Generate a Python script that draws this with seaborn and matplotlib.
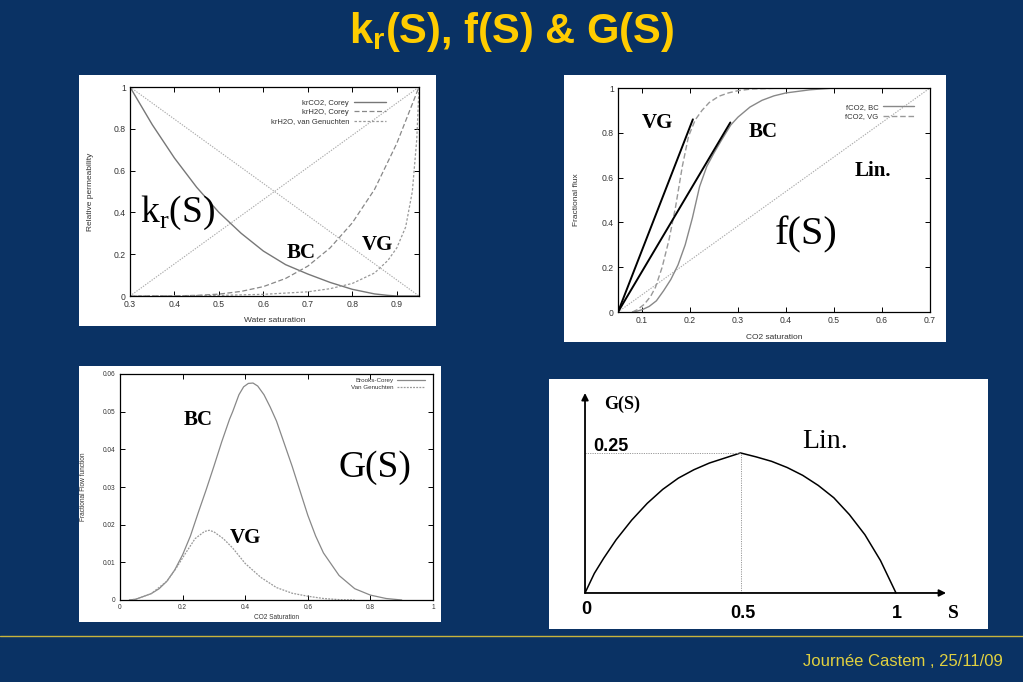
import matplotlib
matplotlib.use('Agg')
import matplotlib.pyplot as plt
import seaborn as sns
from matplotlib.patches import Rectangle
from matplotlib.ticker import FuncFormatter

# ---- panel 1: relative permeabilities vs water saturation
kr_co2_s = [0.30, 0.35, 0.40, 0.45, 0.50, 0.55, 0.60, 0.65, 0.70, 0.75, 0.80, 0.85, 0.88, 0.90, 0.95]
kr_co2 = [1.0, 0.82, 0.66, 0.52, 0.40, 0.30, 0.215, 0.15, 0.105, 0.065, 0.032, 0.010, 0.003, 0.0, 0.0]
kr_h2o_bc_s = [0.30, 0.40, 0.45, 0.50, 0.55, 0.60, 0.65, 0.70, 0.75, 0.80, 0.85, 0.90, 0.95]
kr_h2o_bc = [0.0, 0.0006, 0.003, 0.009, 0.022, 0.045, 0.084, 0.143, 0.23, 0.35, 0.51, 0.73, 1.0]
kr_h2o_vg_s = [0.30, 0.50, 0.60, 0.70, 0.75, 0.80, 0.85, 0.88, 0.90, 0.92, 0.935, 0.945, 0.95]
kr_h2o_vg = [0.0, 0.003, 0.008, 0.02, 0.035, 0.06, 0.11, 0.17, 0.23, 0.33, 0.50, 0.75, 1.0]
kr_lin_s = [0.30, 0.95]
kr_lin_up = [0.0, 1.0]
kr_lin_down = [1.0, 0.0]

# ---- panel 2: fractional flux vs CO2 saturation
f_bc_s = [0.08, 0.09, 0.10, 0.115, 0.13, 0.145, 0.16, 0.175, 0.19, 0.205, 0.22, 0.235, 0.25, 0.265, 0.285, 0.30,
          0.325, 0.35, 0.375, 0.40, 0.45, 0.50]
f_bc = [0.0, 0.004, 0.01, 0.025, 0.05, 0.095, 0.145, 0.21, 0.30, 0.42, 0.56, 0.65, 0.71, 0.765, 0.835, 0.87,
        0.915, 0.945, 0.965, 0.978, 0.992, 1.0]
f_vg_s = [0.08, 0.09, 0.105, 0.118, 0.128, 0.142, 0.156, 0.170, 0.184, 0.197, 0.211, 0.225, 0.24, 0.26, 0.28, 0.30,
          0.33, 0.40]
f_vg = [0.0, 0.01, 0.035, 0.07, 0.11, 0.20, 0.32, 0.47, 0.65, 0.785, 0.858, 0.90, 0.935, 0.963, 0.978, 0.988,
        0.996, 1.0]
f_lin_s = [0.05, 0.70]
f_lin = [0.0, 1.0]
tan_vg_s = [0.05, 0.206]
tan_vg = [0.0, 0.86]
tan_bc_s = [0.05, 0.284]
tan_bc = [0.0, 0.846]

# ---- panel 3: fractional flow function G(S)
g_bc_s = [0.03, 0.05, 0.10, 0.125, 0.15, 0.175, 0.20, 0.225, 0.25, 0.275, 0.30, 0.325, 0.35, 0.36, 0.38, 0.395,
          0.41, 0.425, 0.44, 0.46, 0.48, 0.50, 0.525, 0.55, 0.575, 0.60, 0.625, 0.65, 0.70, 0.75, 0.80, 0.85, 0.90]
g_bc = [0.0, 0.0002, 0.0017, 0.0030, 0.0050, 0.0080, 0.0120, 0.0170, 0.0232, 0.0292, 0.0355, 0.0420, 0.0480,
        0.0500, 0.0545, 0.0566, 0.0575, 0.0576, 0.0568, 0.0545, 0.0512, 0.0475, 0.0415, 0.0355, 0.0290, 0.0225,
        0.0170, 0.0125, 0.0065, 0.0030, 0.0013, 0.0004, 0.0]
g_vg_s = [0.03, 0.05, 0.10, 0.15, 0.18, 0.21, 0.24, 0.27, 0.285, 0.30, 0.33, 0.36, 0.40, 0.45, 0.50, 0.55, 0.60,
          0.65, 0.70, 0.75]
g_vg = [0.0, 0.0002, 0.0017, 0.0050, 0.0085, 0.0125, 0.0163, 0.0182, 0.0185, 0.0181, 0.0163, 0.0138, 0.0097,
        0.0060, 0.0033, 0.0018, 0.0010, 0.0004, 0.0001, 0.0]

# ---- panel 4: linear case sketch
g_lin_s = [0.0, 0.03, 0.06, 0.10, 0.15, 0.20, 0.25, 0.30, 0.35, 0.40, 0.45, 0.50, 0.55, 0.60, 0.65, 0.70, 0.75, 0.80,
           0.85, 0.90, 0.95, 1.0]
g_lin = [0.0, 0.035, 0.062, 0.095, 0.130, 0.160, 0.185, 0.205, 0.220, 0.232, 0.241, 0.250, 0.243, 0.235, 0.224, 0.210,
         0.192, 0.170, 0.140, 0.104, 0.058, 0.0]

W, H = 1023, 682
NAVY = '#0a3264'
YELLOW = '#ffcc00'

sns.set_theme(style='ticks')
plt.rcParams['font.family'] = ['Liberation Sans', 'DejaVu Sans']
plt.rcParams['text.color'] = 'black'
plt.rcParams['mathtext.fontset'] = 'custom'

fig = plt.figure(figsize=(W / 100, H / 100), dpi=100, facecolor=NAVY)


def px_box(l, t, r, b):
    return [l / W, 1 - b / H, (r - l) / W, (b - t) / H]


def white_box(l, t, r, b):
    x0, y0, w, h = px_box(l, t, r, b)
    fig.add_artist(Rectangle((x0, y0), w, h, transform=fig.transFigure, facecolor='white',
                             edgecolor='none', zorder=-1))


def gnuplot_axes(ax, xticks, yticks, size):
    ax.set_facecolor('white')
    for sp in ax.spines.values():
        sp.set_linewidth(0.9)
        sp.set_color('black')
    ax.tick_params(direction='in', top=True, right=True, length=3.5, width=0.7,
                   labelsize=size, labelcolor='#333333', color='black', pad=3)
    ax.set_xticks(xticks)
    ax.set_yticks(yticks)
    fmt = FuncFormatter(lambda v, p: f'{v:g}')
    ax.xaxis.set_major_formatter(fmt)
    ax.yaxis.set_major_formatter(fmt)


serif = ['Liberation Serif', 'DejaVu Serif']
dashed = (0, (4, 2))
dotted = (0, (1.2, 1.2))
lab = dict(ha='center', va='center', color='black')

# ---------------- panel 1
white_box(79, 75, 436, 326)
ax1 = fig.add_axes(px_box(130, 87, 419, 296))
sns.lineplot(x=kr_lin_s, y=kr_lin_up, ax=ax1, color='#aaaaaa', linewidth=0.8, linestyle=dotted)
sns.lineplot(x=kr_lin_s, y=kr_lin_down, ax=ax1, color='#aaaaaa', linewidth=0.8, linestyle=dotted)
sns.lineplot(x=kr_co2_s, y=kr_co2, ax=ax1, color='#777777', linewidth=1.0, label='krCO2, Corey')
sns.lineplot(x=kr_h2o_bc_s, y=kr_h2o_bc, ax=ax1, color='#888888', linewidth=0.9, linestyle=dashed,
             label='krH2O, Corey')
sns.lineplot(x=kr_h2o_vg_s, y=kr_h2o_vg, ax=ax1, color='#999999', linewidth=0.9, linestyle=(0, (2, 1.5)),
             label='krH2O, van Genuchten')
ax1.set_xlim(0.3, 0.95)
ax1.set_ylim(0, 1)
gnuplot_axes(ax1, [0.3, 0.4, 0.5, 0.6, 0.7, 0.8, 0.9], [0, 0.2, 0.4, 0.6, 0.8, 1], 6.2)
ax1.set_xlabel('Water saturation', fontsize=6, color='#333333')
ax1.set_ylabel('Relative permeability', fontsize=6, color='#333333')
ax1.xaxis.set_label_coords(0.5, -0.10)
ax1.yaxis.set_label_coords(-0.125, 0.5)
ax1.legend(loc='upper right', bbox_to_anchor=(0.885, 0.94), frameon=False, markerfirst=False,
           fontsize=5.5, handlelength=4.2, labelspacing=0.25, borderpad=0, borderaxespad=0,
           handletextpad=0.6, labelcolor='#333333')
ax1.text(0.408, 0.397, r'k$_\mathregular{r}$(S)', family=serif, fontsize=27, **lab)
ax1.text(0.685, 0.206, 'BC', family=serif, fontsize=15, weight='bold', **lab)
ax1.text(0.856, 0.244, 'VG', family=serif, fontsize=15, weight='bold', **lab)

# ---------------- panel 2
white_box(564, 75, 946, 342)
ax2 = fig.add_axes(px_box(618, 88, 930, 312))
sns.lineplot(x=f_lin_s, y=f_lin, ax=ax2, color='#aaaaaa', linewidth=0.8, linestyle=dotted)
sns.lineplot(x=f_bc_s, y=f_bc, ax=ax2, color='#888888', linewidth=1.0, label='fCO2, BC')
sns.lineplot(x=f_vg_s, y=f_vg, ax=ax2, color='#999999', linewidth=1.0, linestyle=dashed, label='fCO2, VG')
sns.lineplot(x=tan_vg_s, y=tan_vg, ax=ax2, color='black', linewidth=1.4)
sns.lineplot(x=tan_bc_s, y=tan_bc, ax=ax2, color='black', linewidth=1.4)
ax2.set_xlim(0.05, 0.7)
ax2.set_ylim(0, 1)
gnuplot_axes(ax2, [0.1, 0.2, 0.3, 0.4, 0.5, 0.6, 0.7], [0, 0.2, 0.4, 0.6, 0.8, 1], 6.2)
ax2.set_xlabel('CO2 saturation', fontsize=6, color='#333333')
ax2.set_ylabel('Fractional flux', fontsize=6, color='#333333')
ax2.xaxis.set_label_coords(0.5, -0.098)
ax2.yaxis.set_label_coords(-0.122, 0.5)
ax2.legend(loc='upper right', bbox_to_anchor=(0.948, 0.93), frameon=False, markerfirst=False,
           fontsize=5.5, handlelength=4.0, labelspacing=0.25, borderpad=0, borderaxespad=0,
           handletextpad=0.6, labelcolor='#333333')
ax2.text(0.133, 0.844, 'VG', family=serif, fontsize=15, weight='bold', **lab)
ax2.text(0.352, 0.804, 'BC', family=serif, fontsize=15, weight='bold', **lab)
ax2.text(0.581, 0.629, 'Lin.', family=serif, fontsize=15, weight='bold', **lab)
ax2.text(0.442, 0.344, 'f(S)', family=serif, fontsize=29, **lab)

# ---------------- panel 3
white_box(79, 366, 441, 622)
ax3 = fig.add_axes(px_box(120, 374, 433, 600))
sns.lineplot(x=g_bc_s, y=g_bc, ax=ax3, color='#888888', linewidth=0.9, label='Brooks-Corey')
sns.lineplot(x=g_vg_s, y=g_vg, ax=ax3, color='#999999', linewidth=0.9, linestyle=(0, (1.5, 1)),
             label='Van Genuchten')
ax3.set_xlim(0, 1)
ax3.set_ylim(0, 0.06)
gnuplot_axes(ax3, [0, 0.2, 0.4, 0.6, 0.8, 1], [0, 0.01, 0.02, 0.03, 0.04, 0.05, 0.06], 4.7)
ax3.set_xlabel('CO2 Saturation', fontsize=4.7, color='#333333')
ax3.set_ylabel('Fractional Flow function', fontsize=4.7, color='#333333')
ax3.xaxis.set_label_coords(0.5, -0.062)
ax3.yaxis.set_label_coords(-0.105, 0.5)
ax3.legend(loc='upper right', bbox_to_anchor=(0.975, 0.985), frameon=False, markerfirst=False,
           fontsize=4.5, handlelength=4.5, labelspacing=0.25, borderpad=0, borderaxespad=0,
           handletextpad=0.6, labelcolor='#333333')
ax3.text(0.251, 0.0478, 'BC', family=serif, fontsize=15, weight='bold', **lab)
ax3.text(0.402, 0.0165, 'VG', family=serif, fontsize=15, weight='bold', **lab)
ax3.text(0.816, 0.035, 'G(S)', family=serif, fontsize=27, **lab)

# ---------------- panel 4 (hand drawn axes)
ax4 = fig.add_axes(px_box(549, 379, 988, 629))
ax4.set_facecolor('white')
sns.lineplot(x=g_lin_s, y=g_lin, ax=ax4, color='black', linewidth=1.1)
ax4.set_xlim(-0.1158, 1.2958)
ax4.set_ylim(-0.0643, 0.382)
ax4.set_axis_off()
ax4.add_artist(Rectangle((0, 0), 1, 1, transform=ax4.transAxes, facecolor='white', edgecolor='none', zorder=-5))
ax4.plot([0, 0.5], [0.25, 0.25], color='#999999', linewidth=0.7, linestyle=dotted)
ax4.plot([0.5, 0.5], [0, 0.25], color='#999999', linewidth=0.7, linestyle=dotted)
arrow = dict(arrowstyle='-|>', color='black', lw=1.3, mutation_scale=10, shrinkA=0, shrinkB=0)
ax4.annotate('', xy=(1.161, 0), xytext=(0, 0), arrowprops=arrow)
ax4.annotate('', xy=(0, 0.357), xytext=(0, 0), arrowprops=arrow)
ax4.text(0.119, 0.3375, 'G(S)', family=serif, fontsize=13, weight='bold', **lab)
ax4.text(0.084, 0.261, '0.25', fontsize=13, weight='bold', **lab)
ax4.text(0.772, 0.271, 'Lin.', family=serif, fontsize=20, **lab)
ax4.text(0.003, -0.030, '0', fontsize=13, weight='bold', **lab)
ax4.text(0.508, -0.0375, '0.5', fontsize=13, weight='bold', **lab)
ax4.text(1.003, -0.0375, '1', fontsize=13, weight='bold', **lab)
ax4.text(1.186, -0.036, 'S', family=serif, fontsize=14, weight='bold', **lab)

# ---------------- title and footer
fig.text(0.5, 1 - 32 / H, r'k$_\mathregular{r}$(S), f(S) & G(S)', color=YELLOW, fontsize=30,
         weight='bold', ha='center', va='center')
fig.add_artist(plt.Line2D([0, 1], [1 - 636 / H, 1 - 636 / H], transform=fig.transFigure,
                          color='#c8b43c', linewidth=1.0))
fig.text(1003 / W, 1 - 661 / H, 'Journée Castem , 25/11/09', color='#e0d040', fontsize=12,
         ha='right', va='center')

fig.savefig('out.png', dpi=100, facecolor=NAVY)
